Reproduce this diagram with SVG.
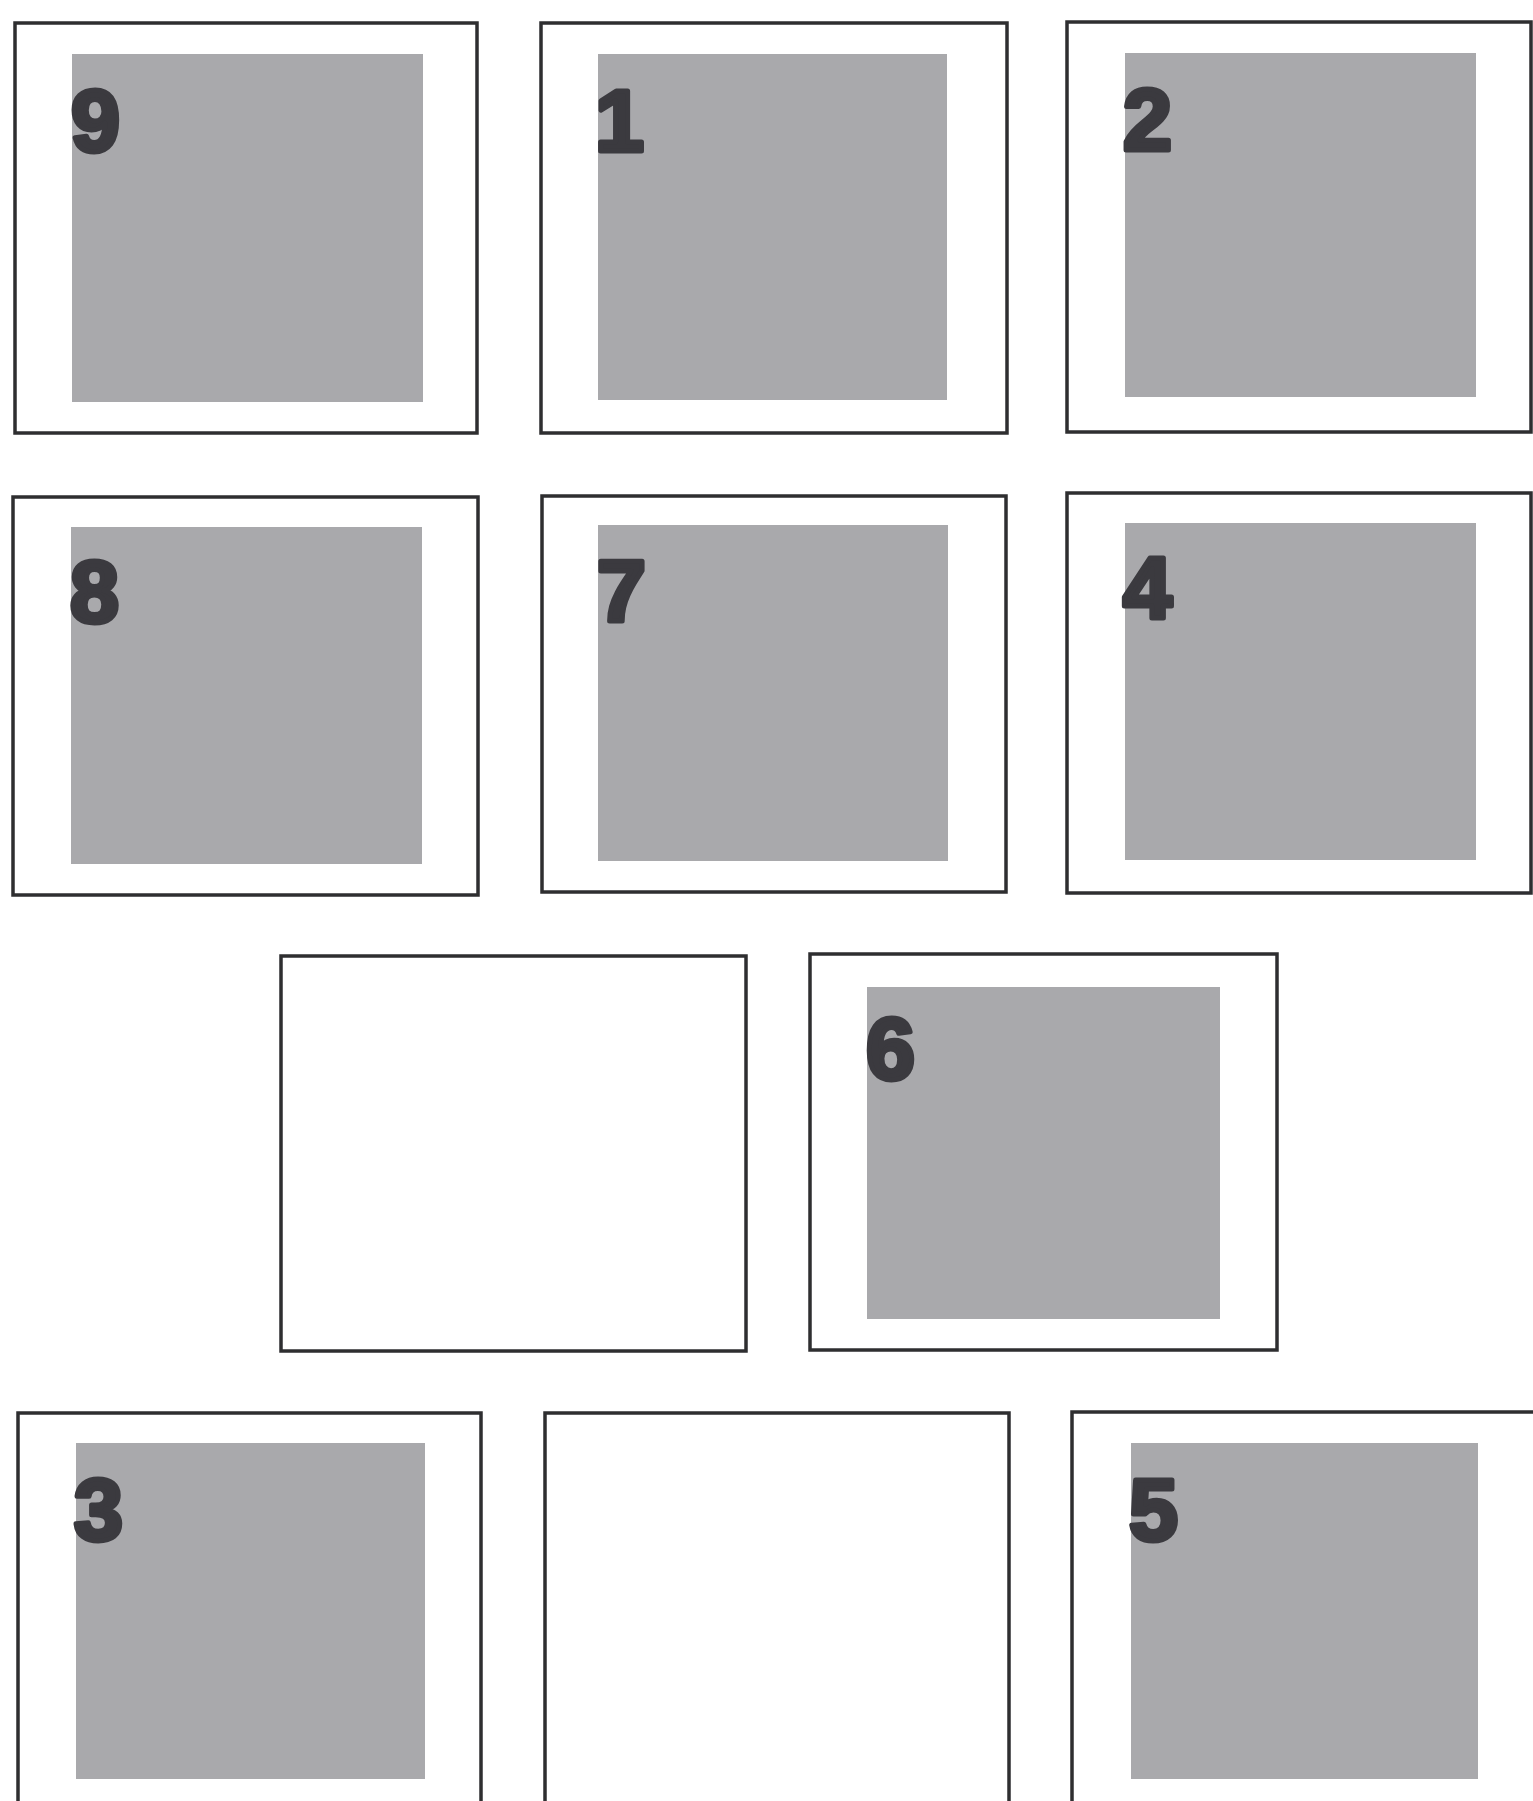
<svg xmlns="http://www.w3.org/2000/svg" width="1533" height="1801" viewBox="0 0 1533 1801">
<style>
.frame{fill:#ffffff;stroke:#2e2e30;stroke-width:3.5}
.panel{fill:#a9a9ac}
.num{font-family:"Liberation Sans",Arial,sans-serif;font-weight:bold;font-size:88px;fill:#3b3a3f;stroke:#3b3a3f;stroke-width:5;stroke-linejoin:round}
</style>
<rect width="1533" height="1801" fill="#ffffff"/>
<g id="card-9"><rect class="frame" x="15" y="23" width="462" height="410"/><rect class="panel" x="72" y="54" width="351" height="348"/><text class="num" x="71" y="151">9</text></g>
<g id="card-1"><rect class="frame" x="541" y="23" width="466" height="410"/><rect class="panel" x="598" y="54" width="349" height="346"/><text class="num" x="595" y="151">1</text></g>
<g id="card-2"><rect class="frame" x="1067" y="22" width="464" height="410"/><rect class="panel" x="1125" y="53" width="351" height="344"/><text class="num" x="1123" y="150">2</text></g>
<g id="card-8"><rect class="frame" x="13" y="497" width="465" height="398"/><rect class="panel" x="71" y="527" width="351" height="337"/><text class="num" x="70" y="622">8</text></g>
<g id="card-7"><rect class="frame" x="542" y="496" width="464" height="396"/><rect class="panel" x="598" y="525" width="350" height="336"/><text class="num" x="597" y="621">7</text></g>
<g id="card-4"><rect class="frame" x="1067" y="493" width="464" height="400"/><rect class="panel" x="1125" y="523" width="351" height="337"/><text class="num" x="1123" y="618">4</text></g>
<g id="card-blank-a"><rect class="frame" x="281" y="956" width="465" height="395"/></g>
<g id="card-6"><rect class="frame" x="810" y="954" width="467" height="396"/><rect class="panel" x="867" y="987" width="353" height="332"/><text class="num" x="866" y="1079">6</text></g>
<g id="card-3"><rect class="frame" x="18" y="1413" width="463" height="420"/><rect class="panel" x="76" y="1443" width="349" height="336"/><text class="num" x="74" y="1540">3</text></g>
<g id="card-blank-b"><rect class="frame" x="545" y="1413" width="464" height="420"/></g>
<g id="card-5"><rect class="frame" x="1072" y="1412" width="470" height="420"/><rect class="panel" x="1131" y="1443" width="347" height="336"/><text class="num" x="1129" y="1540">5</text></g>
<g id="connectors"></g>
</svg>
